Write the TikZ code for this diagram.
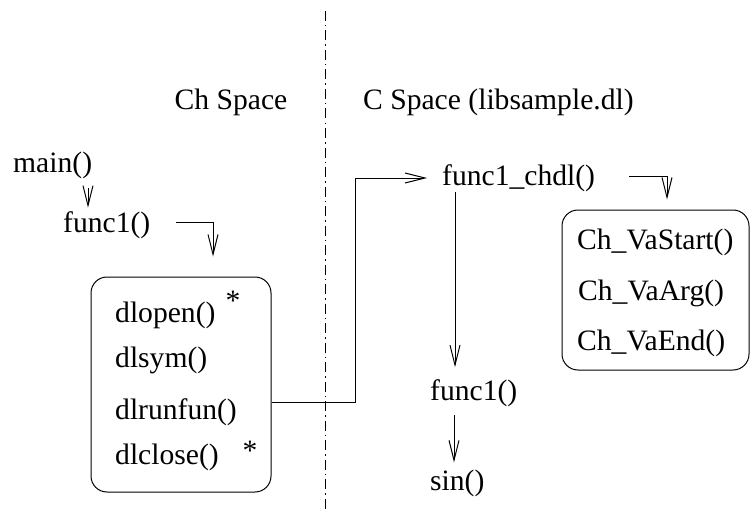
\documentclass[tikz,border=0pt]{standalone}
\usepackage{fontspec}
\setmainfont{Liberation Serif}
\usetikzlibrary{arrows.meta}
\begin{document}
\begin{tikzpicture}[x=1pt,y=-1pt,
  lbl/.style={inner sep=0pt, anchor=west, font=\fontsize{29.6}{36}\selectfont},
  arr/.style={draw, line width=1pt, -{Straight Barb[length=20pt,width=10pt,line width=1pt]}},
  grp/.style={draw, line width=1pt, rounded corners=16pt},
  starmark/.style={inner sep=0pt, anchor=north, font=\fontsize{29.6}{36}\selectfont},
  divider/.style={line width=1pt, dash pattern=on 10pt off 4pt on 1.5pt off 4pt}]
\useasboundingbox (0,0) rectangle (753,519);

% divider
\coordinate (dtop) at (325,11);
\coordinate (dbot) at (325,511);
\draw[divider] (dtop) -- (dbot);

% headings
\node[lbl, anchor=center] (chsp) at (231,102) {Ch Space};
\node[lbl] (csp) at (363,102) {C Space (libsample.dl)};

% left side
\node[lbl] (main) at (13,165) {main()};
\node[lbl] (f1) at (63,225) {func1()};
\node[grp, minimum width=180pt, minimum height=215pt] (lbox) at (181,384.5) {};
\node[lbl] (dlopen) at (115,315) {dlopen()};
\node[lbl] (dlsym) at (115,360) {dlsym()};
\node[lbl] (dlrunfun) at (115,412) {dlrunfun()};
\node[lbl] (dlclose) at (115,457) {dlclose()};
\node[starmark] (s1) at (233,291) {*};
\node[starmark] (s2) at (250,441) {*};

% right side
\node[lbl] (fchdl) at (442,178) {func1\_chdl()};
\node[lbl] (f1r) at (430,393) {func1()};
\node[lbl] (sinn) at (430,483) {sin()};
\node[grp, minimum width=187pt, minimum height=160pt] (rbox) at (655.5,290) {};
\node[lbl] (vs) at (577,242) {Ch\_VaStart()};
\node[lbl] (va) at (578,293) {Ch\_VaArg()};
\node[lbl] (ve) at (577,343) {Ch\_VaEnd()};

% connectors
\coordinate (xa) at (88,0);
\draw[arr, shorten <=9.5pt, shorten >=3.5pt] (main.south -| xa) -- (f1.north -| xa);

\coordinate (c1) at (213,222);
\draw[arr, shorten >=20pt] ([xshift=25pt]f1.east |- c1) -- (c1) -- (c1 |- lbox.north);

\coordinate (c2) at (667,176);
\draw[arr, shorten >=10pt] ([xshift=34pt]fchdl.east |- c2) -- (c2) -- (c2 |- rbox.north);

\coordinate (c3) at (355,402);
\draw[arr, shorten >=15pt] (lbox.east |- c3) -- (c3) -- (c3 |- fchdl.west) -- (fchdl.west);

\coordinate (c4) at (455,0);
\draw[arr, shorten >=12pt] (fchdl.south -| c4) -- (f1r.north -| c4);

\coordinate (c5) at (454,0);
\draw[arr, shorten <=8pt, shorten >=7pt] (f1r.south -| c5) -- (sinn.north -| c5);
\end{tikzpicture}
\end{document}
